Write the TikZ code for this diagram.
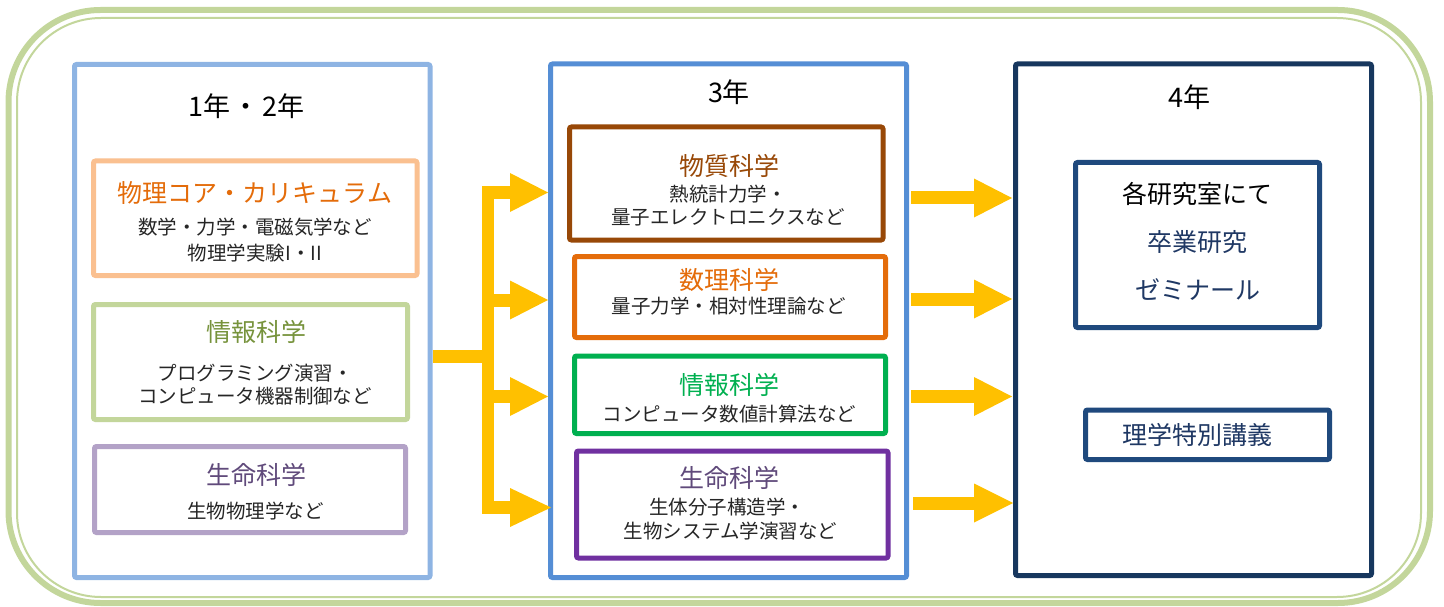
\documentclass[tikz,border=0pt]{standalone}
\usepackage{fontspec}
\setmainfont{Noto Sans CJK JP}
\usetikzlibrary{calc}
\definecolor{frameG}{HTML}{C3D69B}
\definecolor{col1}{HTML}{8EB4E3}
\definecolor{col2}{HTML}{558ED5}
\definecolor{col3}{HTML}{17375E}
\definecolor{peach}{HTML}{FAC090}
\definecolor{orangeT}{HTML}{E46C0A}
\definecolor{oliveT}{HTML}{77933C}
\definecolor{lilac}{HTML}{B3A2C7}
\definecolor{purpleT}{HTML}{604A7B}
\definecolor{brownL}{HTML}{984807}
\definecolor{greenL}{HTML}{00B050}
\definecolor{violetL}{HTML}{7030A0}
\definecolor{navyL}{HTML}{1F497D}
\definecolor{navyT}{HTML}{1F3864}
\definecolor{gold}{HTML}{FFC000}
\definecolor{bodygray}{HTML}{262626}
\newcommand\blockarrow[3]{%
  \draw[shaft] (#1) -- (#2);
  \fill[gold] ($(#2)+(0,-19.5)$) -- (#3) -- ($(#2)+(0,19.5)$) -- cycle;}
\begin{document}
\begin{tikzpicture}[x=1pt,y=-1pt,
  box/.style={draw=#1, line width=5pt, rounded corners=2pt, inner sep=0pt, fill=white},
  txt/.style={inner sep=0pt, anchor=center},
  hdr/.style={txt, text height=22.4pt, text depth=1.9pt, font=\fontsize{27}{32}\selectfont, text=black},
  ttl/.style={txt, text height=20.75pt, text depth=1.75pt, font=\fontsize{25}{30}\selectfont, text=#1},
  body/.style={txt, text height=16.2pt, text depth=1.4pt, font=\fontsize{19.5}{23}\selectfont, text=bodygray},
  shaft/.style={draw=gold, line width=13pt}]
\useasboundingbox (0,0) rectangle (1444,607);
% outer frame
\draw[frameG, line width=6pt, rounded corners=92pt] (8.5,10) rectangle (1430,603);
\draw[frameG, line width=2pt, rounded corners=84pt] (17,18) rectangle (1421,597);
% columns
\node[box=col1, minimum width=355.5pt, minimum height=513pt] (n1) at (252.25,321) {};
\node[box=col2, minimum width=356pt, minimum height=513.5pt] (n2) at (728.5,320.75) {};
\node[box=col3, minimum width=356pt, minimum height=511.5pt] (n3) at (1193.5,319.75) {};
\node[hdr] (h1) at (246.5,106) {1年\hspace{3pt}・\hspace{3pt}2年};
\node[hdr] (h2) at (729,92) {3年};
\node[hdr] (h3) at (1189,97) {4年};
% left column boxes
\node[box=peach, minimum width=323.5pt, minimum height=114.5pt] (a) at (255.25,218.25) {};
\node[ttl=orangeT] (ta) at (255,193) {物理コア・カリキュラム};
\node[body] (ta1) at (255,227) {数学・力学・電磁気学など};
\node[body] (ta2) at (255,253.5) {物理学実験I・II};
\node[box=frameG, minimum width=314pt, minimum height=115pt] (b) at (250.5,362) {};
\node[ttl=oliveT] (tb) at (256,332) {情報科学};
\node[body] (tb1) at (255,373.5) {プログラミング演習・};
\node[body] (tb2) at (255,396) {コンピュータ機器制御など};
\node[box=lilac, minimum width=311pt, minimum height=86pt] (c) at (250,489.5) {};
\node[ttl=purpleT] (tc) at (256,475) {生命科学};
\node[body] (tc1) at (255.5,511.5) {生物物理学など};
% middle column boxes
\node[box=brownL, minimum width=313.5pt, minimum height=113pt] (d) at (726.25,183.5) {};
\node[ttl=brownL] (td) at (729,166) {物質科学};
\node[body] (td1) at (728,194) {熱統計力学・};
\node[body] (td2) at (728,217.5) {量子エレクトロニクスなど};
\node[box=orangeT, minimum width=311pt, minimum height=81pt] (e) at (730,297) {};
\node[ttl=orangeT] (te) at (729,280) {数理科学};
\node[body] (te1) at (728.5,306.5) {量子力学・相対性理論など};
\node[box=greenL, minimum width=311pt, minimum height=77.5pt] (f) at (730,394.75) {};
\node[ttl=greenL] (tf) at (729,385) {情報科学};
\node[body] (tf1) at (729.5,414) {コンピュータ数値計算法など};
\node[box=violetL, minimum width=311.5pt, minimum height=107pt] (g) at (732.25,504.5) {};
\node[ttl=purpleT] (tg) at (729,477.5) {生命科学};
\node[body] (tg1) at (727,507) {生体分子構造学・};
\node[body] (tg2) at (730.5,531) {生物システム学演習など};
% right column boxes
\node[box=navyL, minimum width=244pt, minimum height=165pt] (h) at (1197.5,245) {};
\node[ttl=black] (th1) at (1197.5,194) {各研究室にて};
\node[ttl=navyT] (th2) at (1197.5,242) {卒業研究};
\node[ttl=navyT] (th3) at (1197.5,290) {ゼミナール};
\node[box=navyL, minimum width=244pt, minimum height=49.5pt] (i) at (1207.5,434.75) {};
\node[ttl=navyT] (ti) at (1197.5,435) {理学特別講義};
% left fan-out arrows
\coordinate (ls) at (433,356.5);
\coordinate (lj) at (488,356.5);
\coordinate (vt) at (488,186);
\coordinate (vb) at (488,514);
\draw[shaft] (ls) -- (lj);
\draw[draw=gold, line width=12pt] (vt) -- (vb);
\foreach \k/\y/\t in {1/192.5/548, 2/300/548, 3/396.5/548, 4/507.5/551}{
  \coordinate (bs\k) at (482,\y);
  \coordinate (bb\k) at (510,\y);
  \coordinate (bt\k) at (\t,\y);
  \blockarrow{bs\k}{bb\k}{bt\k}
}
% middle to right arrows
\foreach \k/\y/\s/\t in {1/198/911/1012, 2/299/911/1012, 3/396.5/911/1012, 4/503/913/1013}{
  \coordinate (rs\k) at (\s,\y);
  \coordinate (rb\k) at (974,\y);
  \coordinate (rt\k) at (\t,\y);
  \blockarrow{rs\k}{rb\k}{rt\k}
}
\end{tikzpicture}
\end{document}
